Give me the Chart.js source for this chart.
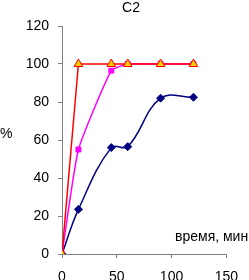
<!DOCTYPE html>
<html><head><meta charset="utf-8">
<script src="https://cdn.jsdelivr.net/npm/chart.js@4"></script>
<style>html,body{margin:0;padding:0;background:#fff;}#wrap{width:249px;height:280px;}</style>
</head><body><div id="wrap"><canvas id="c" width="249" height="280"></canvas></div>
<script>
const times = [0, 15, 45, 60, 90, 120];
const blueVals = [0, 23.5, 56, 56.5, 82, 82.5];
const pinkVals = [0, 55, 96.5, 100, 100, 100];
const redVals = [0, 100, 100, 100, 100, 100];
const yTicks = [0, 20, 40, 60, 80, 100, 120];
const xTicks = [0, 50, 100, 150];
const titleText = 'C2';
const yLabel = '%';
const xLabel = 'время, мин';

const pts = v => times.map((t, i) => ({x: t, y: v[i]}));
const FONT = 'Liberation Sans, Arial, sans-serif';

const textPlugin = {
  id: 'texts',
  afterDraw(chart) {
    const ctx = chart.ctx;
    ctx.save();
    ctx.fillStyle = '#000';
    ctx.textBaseline = 'middle';
    ctx.font = '14px ' + FONT;
    ctx.textAlign = 'center';
    ctx.fillText(titleText, 131, 8);
    ctx.textAlign = 'left';
    ctx.fillText(yLabel, 0, 134);
    ctx.textAlign = 'left';
    ctx.fillText(xLabel, 175, 237);
    ctx.restore();
  }
};

new Chart(document.getElementById('c'), {
  type: 'line',
  data: {
    datasets: [
      {data: pts(redVals), borderColor: '#FF0000', borderWidth: 1.5, tension: 0,
       pointStyle: 'triangle', pointRadius: 5, pointBackgroundColor: '#FFCC00', pointBorderColor: '#FF0000', pointBorderWidth: 1},
      {data: pts(pinkVals), borderColor: '#FF00FF', borderWidth: 1.5, tension: 0.15,
       pointStyle: 'rect', pointRadius: 3.5, pointBackgroundColor: '#FF00FF', pointBorderColor: '#FF00FF', pointBorderWidth: 1},
      {data: pts(blueVals), borderColor: '#000080', borderWidth: 1.5, tension: 0.4,
       pointStyle: 'rectRot', pointRadius: 4, pointBackgroundColor: '#000080', pointBorderColor: '#000080', pointBorderWidth: 1}
    ]
  },
  options: {
    responsive: false,
    animation: false,
    devicePixelRatio: 1,
    layout: {padding: {left: 0, right: 16, top: 26, bottom: 0}},
    plugins: {legend: {display: false}, title: {display: false}, tooltip: {enabled: false}},
    scales: {
      x: {
        type: 'linear', min: 0, max: 150,
        afterBuildTicks: s => { s.ticks = xTicks.map(v => ({value: v})); },
        afterFit: s => { s.height = 26; },
        grid: {drawOnChartArea: false, drawTicks: true, tickLength: 4, color: '#808080'},
        border: {color: '#808080', width: 1},
        ticks: {color: '#000', font: {family: FONT, size: 14}, padding: 11, maxRotation: 0}
      },
      y: {
        min: 0, max: 120,
        afterBuildTicks: s => { s.ticks = yTicks.map(v => ({value: v})); },
        afterFit: s => { s.width = 62; },
        grid: {drawOnChartArea: false, drawTicks: true, tickLength: 4, color: '#808080'},
        border: {color: '#808080', width: 1},
        ticks: {color: '#000', font: {family: FONT, size: 14}, padding: 9}
      }
    }
  },
  plugins: [textPlugin]
});
</script></body></html>
